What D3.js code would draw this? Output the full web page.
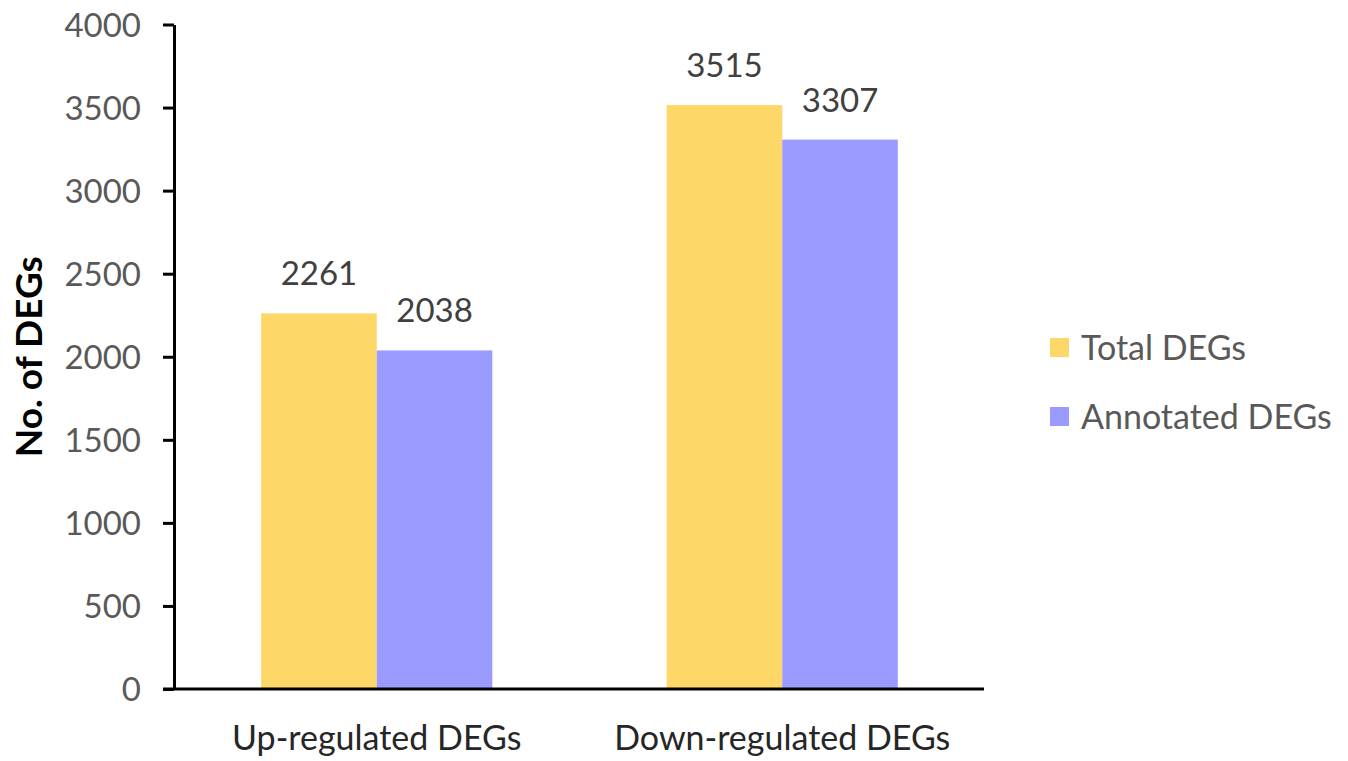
<!DOCTYPE html>
<html>
<head>
<meta charset="utf-8">
<script src="https://cdn.jsdelivr.net/npm/d3@7"></script>
<style>
  html, body { margin: 0; padding: 0; background: #fff; }
  svg { display: block; font-family: Lato, "Open Sans", sans-serif; }
</style>
</head>
<body>
<svg id="chart" width="1348" height="761"></svg>
<script>
// DEG counts per regulation direction
const categories = ["Up-regulated DEGs", "Down-regulated DEGs"];
const seriesNames = ["Total DEGs", "Annotated DEGs"];
const totalDEGs = [2261, 3515];
const annotatedDEGs = [2038, 3307];
const yTicks = [0, 500, 1000, 1500, 2000, 2500, 3000, 3500, 4000];
const colors = ["#FDD868", "#9B9BFF"];

const svg = d3.select("#chart");
const margin = { left: 174, right: 363, top: 24.5, bottom: 72 };
const W = 1348, H = 761;

const x0 = d3.scaleBand()
  .domain(categories)
  .range([margin.left, W - margin.right])
  .paddingInner(0.43)
  .paddingOuter(0.215);

const x1 = d3.scaleBand()
  .domain(seriesNames)
  .range([0, x0.bandwidth()]);

const y = d3.scaleLinear()
  .domain([0, 4000])
  .range([H - margin.bottom, margin.top]);

const rows = categories.map((c, i) => ({
  cat: c,
  vals: [
    { s: seriesNames[0], v: totalDEGs[i] },
    { s: seriesNames[1], v: annotatedDEGs[i] }
  ]
}));

// bars
const g = svg.append("g");
const groups = g.selectAll("g.cat").data(rows).join("g")
  .attr("transform", d => `translate(${x0(d.cat)},0)`);

groups.selectAll("rect").data(d => d.vals).join("rect")
  .attr("x", d => x1(d.s))
  .attr("y", d => y(d.v))
  .attr("width", x1.bandwidth())
  .attr("height", d => y(0) - y(d.v))
  .attr("fill", (d, i) => colors[i]);

// value labels
groups.selectAll("text").data(d => d.vals).join("text")
  .attr("x", d => x1(d.s) + x1.bandwidth() / 2)
  .attr("y", d => y(d.v) - 28)
  .attr("text-anchor", "middle")
  .attr("font-size", 33)
  .attr("fill", "#404040")
  .text(d => d.v);

// y axis
const yAxis = svg.append("g")
  .attr("transform", `translate(${margin.left},0)`)
  .call(d3.axisLeft(y).tickValues(yTicks).tickFormat(d3.format("d"))
    .tickSize(11).tickSizeOuter(0).tickPadding(22));
yAxis.select(".domain").attr("stroke", "#000").attr("stroke-width", 3);
yAxis.selectAll(".tick line").attr("stroke", "#000").attr("stroke-width", 3);
yAxis.selectAll(".tick text")
  .attr("font-size", 33)
  .attr("font-family", "Lato, sans-serif")
  .attr("fill", "#595959")
  .attr("dy", "0.36em");

// x axis line
svg.append("line")
  .attr("x1", margin.left - 11)
  .attr("x2", 984)
  .attr("y1", y(0))
  .attr("y2", y(0))
  .attr("stroke", "#000")
  .attr("stroke-width", 3);

// category labels
svg.append("g").selectAll("text").data(categories).join("text")
  .attr("x", d => x0(d) + x0.bandwidth() / 2)
  .attr("y", 750)
  .attr("text-anchor", "middle")
  .attr("font-size", 34)
  .attr("fill", "#262626")
  .text(d => d);

// y axis title
svg.append("text")
  .attr("transform", `translate(42,${(y(0) + y(4000)) / 2}) rotate(-90)`)
  .attr("text-anchor", "middle")
  .attr("font-size", 37)
  .attr("font-weight", "bold")
  .attr("fill", "#000")
  .text("No. of DEGs");

// legend
const legend = svg.append("g").attr("transform", "translate(1050,338)");
const items = legend.selectAll("g").data(seriesNames).join("g")
  .attr("transform", (d, i) => `translate(0,${i * 69})`);
items.append("rect")
  .attr("width", 19).attr("height", 19)
  .attr("fill", (d, i) => colors[i]);
items.append("text")
  .attr("x", 31)
  .attr("y", 9.5)
  .attr("dy", "0.36em")
  .attr("font-size", 34)
  .attr("fill", "#595959")
  .text(d => d);
</script>
</body>
</html>
